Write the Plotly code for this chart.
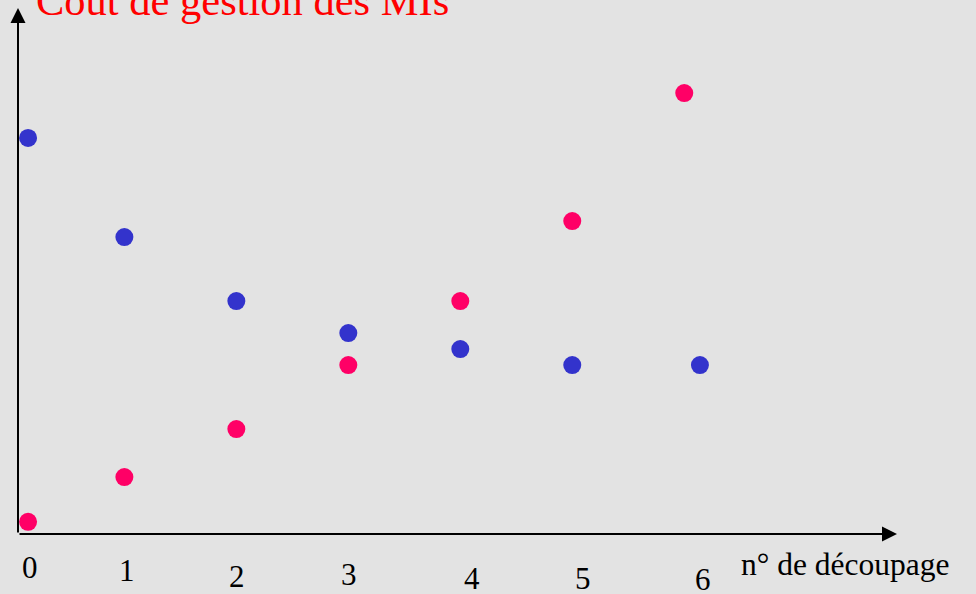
import plotly.graph_objects as go

# Positions along the axis (units of one "découpage" step)
blue_x = [0.09, 0.95, 1.95, 2.95, 3.95, 4.95, 6.09]
blue_y = [12.38, 9.28, 7.28, 6.28, 5.78, 5.28, 5.28]
pink_x = [0.09, 0.95, 1.95, 2.95, 3.95, 4.95, 5.95]
pink_y = [0.38, 1.78, 3.28, 5.28, 7.28, 9.78, 13.78]

tick_labels = ["0", "1", "2", "3", "4", "5", "6"]
tick_x = [0.11, 0.97, 1.96, 2.96, 4.05, 5.05, 6.12]

# hand-placed labels sit at slightly different heights below the axis (px)
_TICK_DROP = [33, 36, 42, 40, 44, 44, 45]

_BG = "#e3e3e3"
_FONT = "Liberation Serif, Times New Roman, serif"

fig = go.Figure()
fig.add_scatter(x=blue_x, y=blue_y, mode="markers",
                marker=dict(size=18, color="#3333cc"), showlegend=False)
fig.add_scatter(x=pink_x, y=pink_y, mode="markers",
                marker=dict(size=18, color="#ff0066"), showlegend=False)

annotations = []
# axes drawn as arrows
annotations.append(dict(xref="x domain", yref="y domain", axref="x domain", ayref="y domain",
                        x=1, y=0, ax=0, ay=0, showarrow=True, arrowhead=2,
                        arrowsize=1.5, arrowwidth=2, arrowcolor="black", text=""))
annotations.append(dict(xref="x domain", yref="y domain", axref="x domain", ayref="y domain",
                        x=0, y=1, ax=0, ay=0, showarrow=True, arrowhead=2,
                        arrowsize=1.5, arrowwidth=2, arrowcolor="black", text=""))
for lab, xv, drop in zip(tick_labels, tick_x, _TICK_DROP):
    annotations.append(dict(xref="x", yref="paper", x=xv, y=0, yshift=-drop,
                            text=lab, showarrow=False, xanchor="center", yanchor="middle",
                            font=dict(family=_FONT, size=31, color="black")))
annotations.append(dict(xref="paper", yref="paper", x=1.0625, y=0, yshift=-30,
                        text="n° de découpage", showarrow=False,
                        xanchor="right", yanchor="middle",
                        font=dict(family=_FONT, size=31.5, color="black")))
annotations.append(dict(xref="paper", yref="paper", x=0.0185, y=1, yshift=8,
                        text="Coût de gestion des MIs", showarrow=False,
                        xanchor="left", yanchor="middle",
                        font=dict(family=_FONT, size=42.5, color="red")))

fig.update_layout(
    width=976, height=594,
    margin=dict(l=18, r=79, t=8, b=60),
    paper_bgcolor=_BG, plot_bgcolor=_BG,
    xaxis=dict(range=[0, 7.85], visible=False),
    yaxis=dict(range=[0, 16.44], visible=False),
    annotations=annotations,
)
fig.write_html("out.html", config={"displayModeBar": False},
               post_script="document.body.style.margin='0';")
